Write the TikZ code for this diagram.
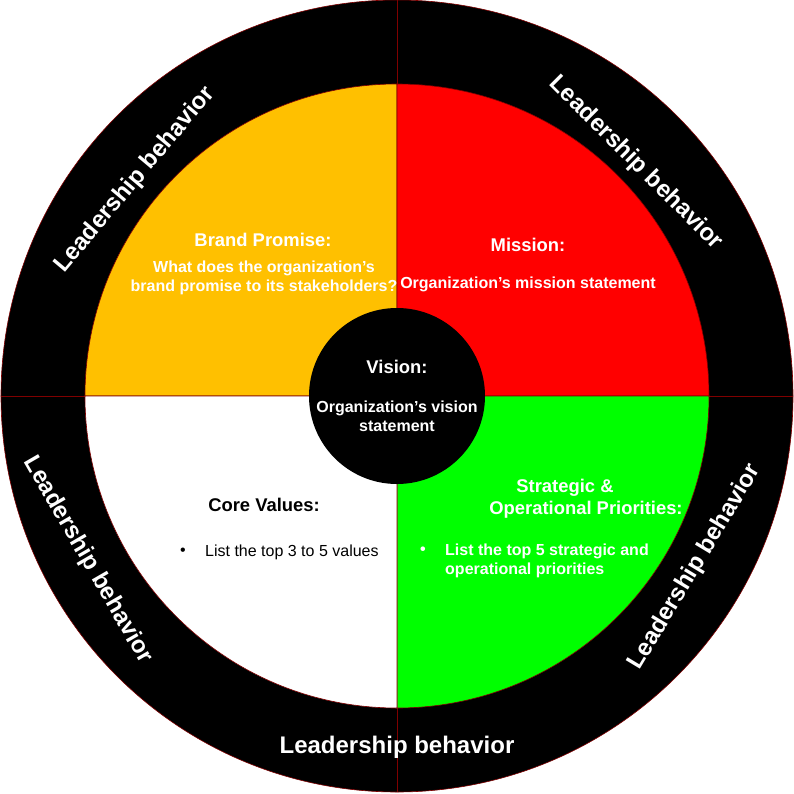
\documentclass[tikz,border=0pt]{standalone}
\usepackage{fontspec}
\setmainfont{Liberation Sans}
\definecolor{ringline}{HTML}{800000}
\definecolor{qorange}{HTML}{FFC000}
\definecolor{qred}{HTML}{FF0000}
\definecolor{qgreen}{HTML}{00FF00}
\begin{document}
\begin{tikzpicture}[x=1pt,y=1pt,
  lb/.style={text=white,font=\bfseries\fontsize{24}{28}\selectfont,inner sep=0pt},
  ttl/.style={font=\bfseries\fontsize{18.4}{22}\selectfont,inner sep=0pt},
  sub/.style={font=\bfseries\fontsize{16}{19}\selectfont,inner sep=0pt,align=center},
  quad/.style={draw=ringline,line width=0.6pt}]
\useasboundingbox (-397,-397) rectangle (397,396);
% outer ring
\filldraw[fill=black,draw=ringline,line width=0.6pt] (0,0) circle (396pt);
\draw[ringline,line width=0.8pt] (0,396) -- (0,-396);
\draw[ringline,line width=0.8pt] (-396,0) -- (396,0);
% quadrants
\filldraw[quad,fill=qorange] (0,0) -- (-312,0) arc[start angle=180,end angle=90,radius=312pt] -- cycle;
\filldraw[quad,fill=qred] (0,0) -- (0,312) arc[start angle=90,end angle=0,radius=312pt] -- cycle;
\filldraw[quad,fill=qgreen] (0,0) -- (312,0) arc[start angle=0,end angle=-90,radius=312pt] -- cycle;
\filldraw[quad,fill=white] (0,0) -- (0,-312) arc[start angle=270,end angle=180,radius=312pt] -- cycle;
% center circle
\fill[black] (0,0) circle (88pt);
% ring labels
\node[lb,rotate=50] (lbtl) at (-262,216) {Leadership behavior};
\node[lb,rotate=-45] (lbtr) at (239,233) {Leadership behavior};
\node[lb,rotate=59] (lbbr) at (298,-171) {Leadership behavior};
\node[lb,rotate=-60] (lbbl) at (-309,-164) {Leadership behavior};
\node[lb] (lbb) at (0,-351) {Leadership behavior};
% brand promise
\node[ttl,text=white] (bpt) at (-134,156) {Brand Promise:};
\node[sub,text=white] (bps) at (-133,118.5) {What does the organization’s\\brand promise to its stakeholders?};
% mission
\node[ttl,text=white] (mit) at (131,151) {Mission:};
\node[sub,text=white] (mis) at (131,112) {Organization’s mission statement};
% vision
\node[ttl,text=white] (vit) at (0,29) {Vision:};
\node[sub,text=white] (vis) at (0,-20.5) {Organization’s vision\\statement};
% core values
\node[ttl,text=black] (cvt) at (-133,-109) {Core Values:};
\node[inner sep=0pt,font=\fontsize{16}{19}\selectfont] (cvb) at (-214,-156) {\textbullet};
\node[inner sep=0pt,anchor=west,font=\fontsize{16}{19}\selectfont] (cvs) at (-192,-156) {List the top 3 to 5 values};
% strategic
\node[ttl,text=white] (st1) at (168,-92) {Strategic \&};
\node[ttl,text=white] (st2) at (189,-114) {Operational Priorities:};
\node[inner sep=0pt,text=white,font=\bfseries\fontsize{16}{19}\selectfont] (stb) at (26,-155) {\textbullet};
\node[sub,text=white,align=left,anchor=west] (sts) at (48,-164.5) {List the top 5 strategic and\\operational priorities};
\end{tikzpicture}
\end{document}
